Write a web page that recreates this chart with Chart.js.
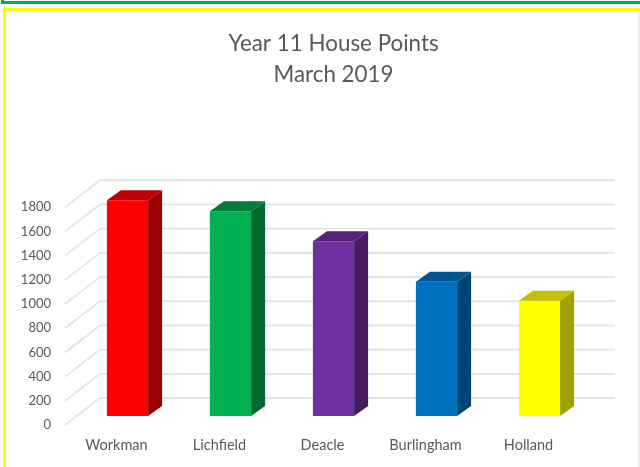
<!DOCTYPE html>
<html>
<head>
<meta charset="utf-8">
<title>Year 11 House Points</title>
<script src="https://cdn.jsdelivr.net/npm/chart.js@4"></script>
<style>
    html, body { margin: 0; padding: 0; background: #fff; }
    body { position: relative; width: 640px; height: 467px; overflow: hidden; }
    #greenBox { position: absolute; left: 1px; top: -5px; width: 650px; height: 3px; border: 3px solid #00b050; }
    #yellowBox { position: absolute; left: 3px; top: 8px; width: 650px; height: 480px; border: 3px solid #ffff00; }
    #rightEdge { position: absolute; left: 638px; top: 11px; width: 2px; height: 456px; background: #efefef; }
    #chart { position: absolute; left: 0; top: 0; }
</style>
</head>
<body>
<div id="greenBox"></div>
<div id="yellowBox"></div>
<div id="rightEdge"></div>
<canvas id="chart" width="640" height="467"></canvas>
<script>
const titleLines = ['Year 11 House Points', 'March 2019'];
const houses = ['Workman', 'Lichfield', 'Deacle', 'Burlingham', 'Holland'];
const points = [1783, 1693, 1445, 1109, 952];
const frontColors = ['#ff0000', '#00b050', '#7030a0', '#0070c0', '#ffff00'];
const sideColors = ['#9c0000', '#006a30', '#431d60', '#004473', '#a0a000'];
const topColors = ['#c00000', '#007d3a', '#552479', '#005591', '#c2c200'];

// fake 3D look: Chart.js only has flat bars, the rest is painted on top of its scales
const barDepth = { x: 14, y: -10 };
const wall = { front: { x: -11, y: 9 }, back: { x: 24, y: -18 } };

const box3d = {
    id: 'box3d',
    beforeDatasetsDraw(chart) {
        const { ctx, chartArea, scales } = chart;
        ctx.save();
        ctx.strokeStyle = '#e4e4e4';
        ctx.lineWidth = 1.8;
        scales.y.ticks.forEach(tick => {
            const y = scales.y.getPixelForValue(tick.value);
            ctx.beginPath();
            ctx.moveTo(chartArea.left + wall.front.x, y + wall.front.y);
            ctx.lineTo(chartArea.left + wall.front.x + 35, y + wall.back.y);
            ctx.lineTo(chartArea.right + wall.back.x, y + wall.back.y);
            ctx.stroke();
        });
        ctx.restore();
    },
    afterDatasetsDraw(chart) {
        const { ctx } = chart;
        ctx.save();
        chart.getDatasetMeta(0).data.forEach((bar, i) => {
            const left = bar.x - bar.width / 2;
            const right = bar.x + bar.width / 2;

            ctx.fillStyle = sideColors[i];
            ctx.beginPath();
            ctx.moveTo(right, bar.y);
            ctx.lineTo(right + barDepth.x, bar.y + barDepth.y);
            ctx.lineTo(right + barDepth.x, bar.base + barDepth.y);
            ctx.lineTo(right, bar.base);
            ctx.closePath();
            ctx.fill();

            ctx.fillStyle = topColors[i];
            ctx.beginPath();
            ctx.moveTo(left, bar.y);
            ctx.lineTo(left + barDepth.x, bar.y + barDepth.y);
            ctx.lineTo(right + barDepth.x, bar.y + barDepth.y);
            ctx.lineTo(right, bar.y);
            ctx.closePath();
            ctx.fill();
        });
        ctx.restore();
    }
};

new Chart(document.getElementById('chart'), {
    type: 'bar',
    data: {
        labels: houses,
        datasets: [{
            label: 'House Points',
            data: points,
            backgroundColor: frontColors,
            barPercentage: 0.4,
            categoryPercentage: 1,
            clip: false
        }]
    },
    options: {
        responsive: false,
        animation: false,
        layout: { padding: { left: 20, right: 49, bottom: 0 } },
        plugins: {
            legend: { display: false },
            tooltip: { enabled: false },
            title: {
                display: true,
                fullSize: false,
                text: titleLines,
                color: '#595959',
                font: { family: 'Lato', size: 22.4, weight: 'normal', lineHeight: 1.39 },
                padding: { top: 28, bottom: 108 }
            }
        },
        scales: {
            x: {
                grid: { display: false, drawTicks: false },
                border: { display: false },
                ticks: {
                    color: '#595959',
                    font: { family: 'Lato', size: 14.5 },
                    labelOffset: -11,
                    padding: 21,
                    maxRotation: 0
                },
                afterFit(scale) { scale.height = 51; }
            },
            y: {
                min: 0,
                max: 1800,
                grid: { display: false, drawTicks: false },
                border: { display: false },
                ticks: {
                    stepSize: 200,
                    color: '#595959',
                    font: { family: 'Lato', size: 13 },
                    labelOffset: 9,
                    padding: 25,
                    callback: value => String(value)
                },
                afterFit(scale) { scale.width = 56; }
            }
        }
    },
    plugins: [box3d]
});
</script>
</body>
</html>
